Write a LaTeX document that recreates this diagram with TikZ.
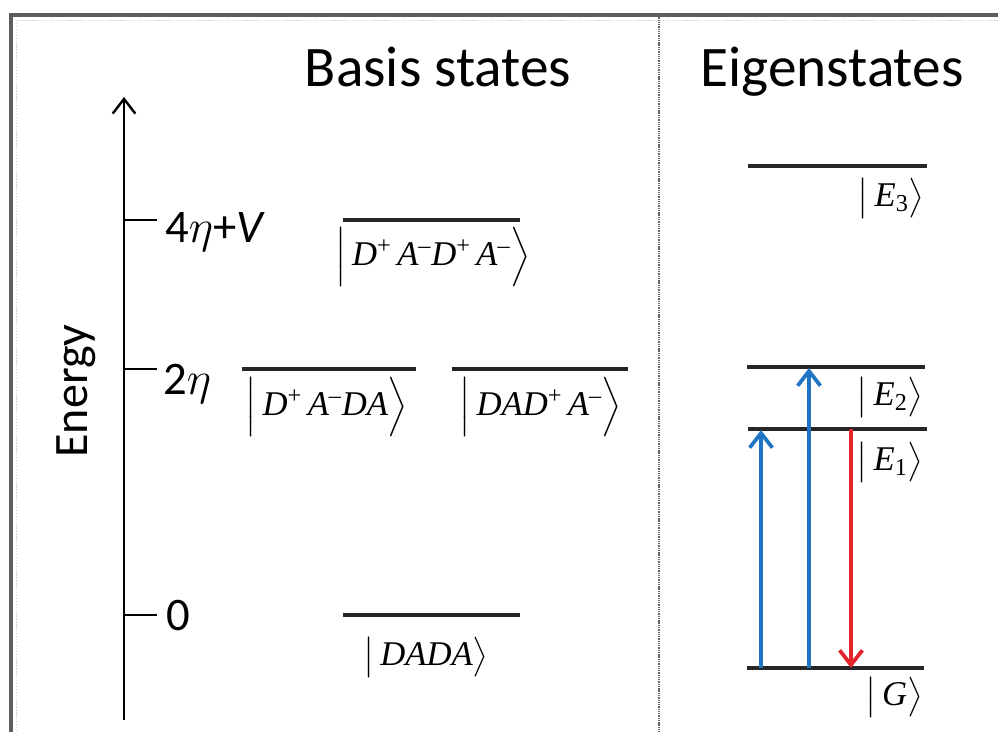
\RequirePackage{fix-cm}
\documentclass[tikz,border=0pt]{standalone}
\usepackage{amsmath}
\usepackage{fontspec}
\setmainfont{Carlito}
\newfontfamily\tms{Liberation Serif}
\usetikzlibrary{arrows.meta}
\definecolor{framegray}{HTML}{5E5E5E}
\definecolor{lvlgray}{HTML}{262626}
\definecolor{arrblue}{HTML}{1F74C4}
\definecolor{arrred}{HTML}{E5232B}
\newcommand\kup[1]{\textsuperscript{\upshape #1}}
\newcommand\kdn[1]{\textsubscript{\upshape #1}}
\newcommand\ketB[1]{$\Bigl|$\,{\tms\itshape #1}$\Bigr\rangle$}
\newcommand\kets[1]{$\bigl|$\,{\tms\itshape #1}$\bigr\rangle$}
\tikzset{
  framestyle/.style={draw=framegray, line width=2.8pt},
  faint/.style={draw=black!18, line width=0.6pt, dash pattern=on 1pt off 1.2pt},
  sepline/.style={draw=black!60, line width=1pt, dash pattern=on 1pt off 0.7pt},
  title/.style={font=\fontsize{43}{50}\selectfont, inner sep=0pt, anchor=base},
  ticklbl/.style={font=\fontsize{35}{40}\selectfont, inner sep=0pt, anchor=base west},
  ketlbl/.style={font=\fontsize{26}{30}\selectfont, inner sep=0pt},
  axisline/.style={line width=1.8pt, -{Straight Barb[length=11pt,width=17pt]}},
  tickline/.style={line width=1.6pt},
  level/.style={draw=lvlgray, line width=2.5pt},
  trans/.style={line width=2.8pt, -{Straight Barb[length=11pt,width=17pt]}},
}
\begin{document}
\begin{tikzpicture}[x=0.75pt,y=-0.75pt]
\useasboundingbox (0,0) rectangle (998,731);
\clip (0,0) rectangle (998,731);
\fill[white] (0,0) rectangle (998,731);
% frame
\coordinate (ftl) at (11,15);
\coordinate (ftr) at (1010,15);
\coordinate (fbl) at (11,745);
\draw[framestyle] (fbl) -- (ftl) -- (ftr);
\coordinate (dtl) at (16,20);
\coordinate (dtr) at (1000,20);
\coordinate (dbl) at (16,740);
\draw[faint] (dbl) -- (dtl) -- (dtr);
% separator
\coordinate (s1) at (659,15);
\coordinate (s2) at (659,740);
\draw[sepline] (s1) -- (s2);
% titles
\node[title] (tb) at (438,87) {Basis states};
\node[title] (te) at (832,87) {Eigenstates};
% axis
\coordinate (ax0) at (124,720);
\coordinate (ax1) at (124,97);
\draw[axisline] (ax0) -- (ax1);
\node[font=\fontsize{36}{40}\selectfont, inner sep=0pt, anchor=base, rotate=90] (en) at (87,391) {Energy};
\coordinate (tk4a) at (124,220); \coordinate (tk4b) at (157,220);
\coordinate (tk2a) at (124,369); \coordinate (tk2b) at (157,369);
\coordinate (tk0a) at (124,615); \coordinate (tk0b) at (157,615);
\draw[tickline] (tk4a) -- (tk4b);
\draw[tickline] (tk2a) -- (tk2b);
\draw[tickline] (tk0a) -- (tk0b);
\node[ticklbl] (t4) at (165,242) {4$\eta$+\textit{V}};
\node[ticklbl] (t2) at (163,394) {2$\eta$};
\node[ticklbl] (t0) at (166,630) {0};
% basis levels
\coordinate (l4a) at (343,220); \coordinate (l4b) at (520,220);
\coordinate (l2aa) at (242,369); \coordinate (l2ab) at (416,369);
\coordinate (l2ba) at (452,369); \coordinate (l2bb) at (628,369);
\coordinate (l0a) at (343,615); \coordinate (l0b) at (520,615);
\draw[level] (l4a) -- (l4b);
\draw[level] (l2aa) -- (l2ab);
\draw[level] (l2ba) -- (l2bb);
\draw[level] (l0a) -- (l0b);
\node[ketlbl] (k4) at (433,257) {\ketB{D\kup{+}\,A\kup{–}D\kup{+}\,A\kup{–}}};
\node[ketlbl] (k2a) at (327,407) {\ketB{D\kup{+}\,A\kup{–}DA}};
\node[ketlbl] (k2b) at (541,407) {\ketB{DAD\kup{+}\,A\kup{–}}};
\node[ketlbl] (k0) at (426,657) {\kets{DADA}};
% eigen levels
\coordinate (e3a) at (748,166); \coordinate (e3b) at (927,166);
\coordinate (e2a) at (747,367); \coordinate (e2b) at (925,367);
\coordinate (e1a) at (748,429); \coordinate (e1b) at (927,429);
\coordinate (ga) at (747,668); \coordinate (gb) at (924,668);
\draw[level] (e3a) -- (e3b);
\draw[level] (e2a) -- (e2b);
\draw[level] (e1a) -- (e1b);
\draw[level] (ga) -- (gb);
\node[ketlbl] (ke3) at (891,198) {\kets{E\kdn{3}}};
\node[ketlbl] (ke2) at (890,397) {\kets{E\kdn{2}}};
\node[ketlbl] (ke1) at (890,462) {\kets{E\kdn{1}}};
\node[ketlbl] (kg) at (894,697) {\kets{G}};
% transitions
\coordinate (b1s) at (761,668); \coordinate (b1e) at (761,430);
\coordinate (b2s) at (809,668); \coordinate (b2e) at (809,368);
\coordinate (rs) at (851,429); \coordinate (re) at (851,668);
\draw[trans, arrblue] (b1s) -- (b1e);
\draw[trans, arrblue] (b2s) -- (b2e);
\draw[trans, arrred] (rs) -- (re);
\end{tikzpicture}
\end{document}
